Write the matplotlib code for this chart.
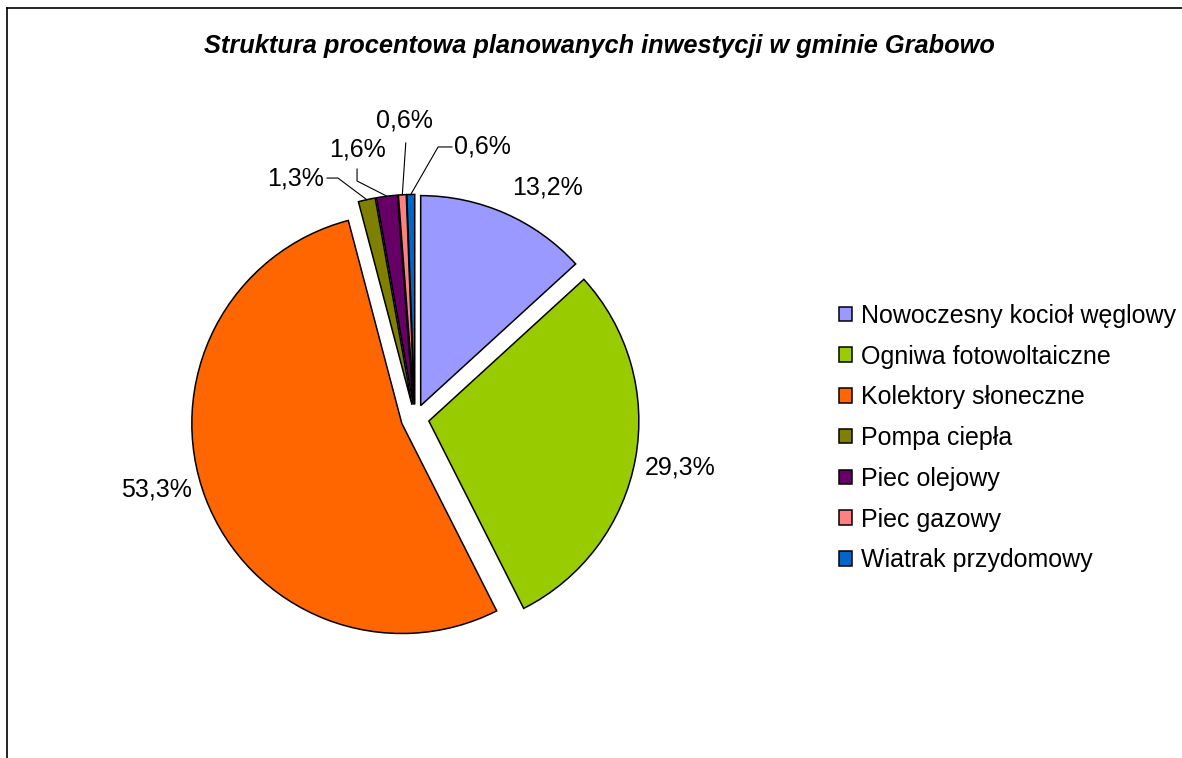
import numpy as np
import matplotlib.pyplot as plt
from matplotlib.lines import Line2D

plt.rcParams['font.family'] = ['Liberation Sans', 'DejaVu Sans']

# Data
names = [
    "Nowoczesny kocioł węglowy",
    "Ogniwa fotowoltaiczne",
    "Kolektory słoneczne",
    "Pompa ciepła",
    "Piec olejowy",
    "Piec gazowy",
    "Wiatrak przydomowy",
]
shares = [13.2, 29.3, 53.3, 1.3, 1.6, 0.6, 0.6]
colors = ["#9999FF", "#99CC00", "#FF6600", "#808000", "#660066", "#FF8080", "#0066CC"]
title = "Struktura procentowa planowanych inwestycji w gminie Grabowo"

# Label layout (data coords, pie radius = 1)
label_pos = [(0.633, 1.102), (1.262, -0.231), (-1.229, -0.340),
             (-0.567, 1.145), (-0.276, 1.283), (-0.048, 1.417), (0.319, 1.293)]
# leader lines for small slices: (start, bend)
leaders = {3: [(-0.419, 1.145), (-0.367, 1.145)],
           4: [(-0.276, 1.188), (-0.276, 1.131)],
           5: [(-0.044, 1.312), (-0.044, 1.312)],
           6: [(0.176, 1.293), (0.110, 1.293)]}

W, H = 1182, 758
fig = plt.figure(figsize=(W / 100, H / 100), dpi=100)

# pie axes: centre at (415, 418.5) px, radius 210 px
cx, cy, R, half = 415, 418.5, 210, 300
ax = fig.add_axes([(cx - half) / W, (H - cy - half) / H, 2 * half / W, 2 * half / H])

wedges, _ = ax.pie(
    shares,
    colors=colors,
    startangle=90,
    counterclock=False,
    explode=[0.067] * len(shares),
    radius=1,
    wedgeprops=dict(edgecolor="black", linewidth=1.1),
)
lim = half / R
ax.set_xlim(-lim, lim)
ax.set_ylim(-lim, lim)
ax.set_aspect("equal")
ax.axis("off")

for i, (w, v) in enumerate(zip(wedges, shares)):
    txt = f"{v:.1f}%".replace(".", ",")
    ax.text(*label_pos[i], txt, ha="center", va="center", fontsize=18)
    if i in leaders:
        mid = np.deg2rad((w.theta1 + w.theta2) / 2)
        ex, ey = w.center[0] + np.cos(mid), w.center[1] + np.sin(mid)
        (sx, sy), (bx, by) = leaders[i]
        ax.plot([sx, bx, ex], [sy, by, ey], color="black", lw=0.8)

fig.text(0.507, 1 - 46 / H, title, ha="center", va="center",
         fontsize=18.3, fontweight="bold", fontstyle="italic")

fig.legend(
    wedges, names,
    loc="center left",
    bbox_to_anchor=(839 / W, 1 - 438 / H),
    frameon=False,
    fontsize=18,
    handlelength=0.52,
    handleheight=0.52,
    handletextpad=0.36,
    labelspacing=0.67,
    borderpad=0,
    borderaxespad=0,
)

# chart border (top and left visible)
fig.add_artist(Line2D([7 / W, 1], [1 - 8 / H, 1 - 8 / H], color="black", lw=1.2))
fig.add_artist(Line2D([7 / W, 7 / W], [0, 1 - 8 / H], color="black", lw=1.2))

fig.savefig("out.png", dpi=100)
